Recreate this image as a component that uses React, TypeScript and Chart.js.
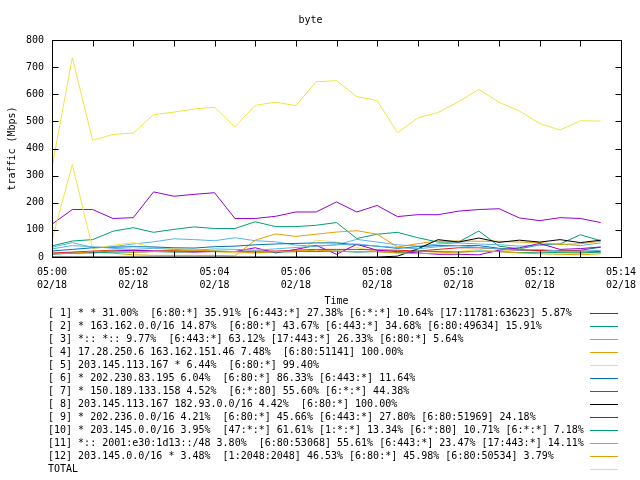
import React, { useEffect, useRef } from "react";
import { Chart, registerables } from "chart.js";

Chart.register(...registerables);

const FONT = "'DejaVu Sans Mono', 'Liberation Mono', monospace";

const chartTitle = "byte";
const yAxisTitle = "traffic (Mbps)";
const xAxisTitle = "Time";
const dateLabel = "02/18";
const startTime = "05:00:00";

const times = [
  "05:00:00", "05:00:30", "05:01:00", "05:01:30", "05:02:00", "05:02:30", "05:03:00",
  "05:03:30", "05:04:00", "05:04:30", "05:05:00", "05:05:30", "05:06:00", "05:06:30",
  "05:07:00", "05:07:30", "05:08:00", "05:08:30", "05:09:00", "05:09:30", "05:10:00",
  "05:10:30", "05:11:00", "05:11:30", "05:12:00", "05:12:30", "05:13:00", "05:13:30",
];

const yMin = 0;
const yMax = 800;
const yStep = 100;
const xMinMinutes = 0;
const xMaxMinutes = 14;

const seriesLabels = [
  "[ 1] * * 31.00%  [6:80:*] 35.91% [6:443:*] 27.38% [6:*:*] 10.64% [17:11781:63623] 5.87%",
  "[ 2] * 163.162.0.0/16 14.87%  [6:80:*] 43.67% [6:443:*] 34.68% [6:80:49634] 15.91%",
  "[ 3] *:: *:: 9.77%  [6:443:*] 63.12% [17:443:*] 26.33% [6:80:*] 5.64%",
  "[ 4] 17.28.250.6 163.162.151.46 7.48%  [6:80:51141] 100.00%",
  "[ 5] 203.145.113.167 * 6.44%  [6:80:*] 99.40%",
  "[ 6] * 202.230.83.195 6.04%  [6:80:*] 86.33% [6:443:*] 11.64%",
  "[ 7] * 150.189.133.158 4.52%  [6:*:80] 55.60% [6:*:*] 44.38%",
  "[ 8] 203.145.113.167 182.93.0.0/16 4.42%  [6:80:*] 100.00%",
  "[ 9] * 202.236.0.0/16 4.21%  [6:80:*] 45.66% [6:443:*] 27.80% [6:80:51969] 24.18%",
  "[10] * 203.145.0.0/16 3.95%  [47:*:*] 61.61% [1:*:*] 13.34% [6:*:80] 10.71% [6:*:*] 7.18%",
  "[11] *:: 2001:e30:1d13::/48 3.80%  [6:80:53068] 55.61% [6:443:*] 23.47% [17:443:*] 14.11%",
  "[12] 203.145.0.0/16 * 3.48%  [1:2048:2048] 46.53% [6:80:*] 45.98% [6:80:50534] 3.79%",
  "TOTAL",
];

const seriesColors = [
  "#9400d3", "#009e73", "#56b4e9", "#e69f00", "#f0e442", "#0072b2", "#e51e10",
  "#000000", "#9400d3", "#009e73", "#56b4e9", "#e69f00", "#f0e442",
];

const s1 = [121, 175, 175, 142, 145, 240, 224, 231, 237, 142, 142, 150, 166, 166, 203, 166, 190, 149, 156, 156, 169, 175, 178, 144, 134, 145, 142, 127];
const s2 = [41, 59, 64, 95, 108, 91, 102, 111, 105, 105, 130, 112, 112, 117, 127, 68, 84, 91, 71, 55, 55, 96, 40, 30, 45, 48, 82, 60];
const s3 = [36, 53, 35, 38, 48, 56, 67, 64, 60, 71, 60, 56, 44, 40, 45, 65, 55, 45, 40, 48, 52, 48, 45, 40, 42, 48, 42, 52];
const s4 = [12, 15, 18, 14, 8, 6, 6, 6, 6, 4, 62, 85, 76, 84, 92, 97, 84, 37, 49, 59, 59, 58, 58, 55, 53, 46, 49, 58];
const s5 = [62, 341, 31, 43, 53, 35, 30, 28, 20, 15, 15, 20, 18, 62, 55, 35, 20, 15, 20, 22, 20, 28, 20, 30, 22, 18, 15, 20];
const s6 = [22, 28, 34, 36, 38, 37, 34, 33, 38, 40, 45, 48, 50, 52, 52, 45, 40, 32, 38, 42, 42, 42, 32, 28, 24, 22, 25, 36];
const s7 = [15, 18, 22, 25, 25, 22, 24, 22, 20, 20, 22, 22, 25, 28, 28, 28, 26, 25, 22, 28, 34, 34, 30, 24, 24, 24, 22, 20];
const s8 = [0, 0, 0, 0, 0, 0, 0, 0, 0, 0, 0, 0, 0, 0, 0, 0, 0, 3, 30, 64, 55, 70, 54, 62, 55, 64, 53, 62];
const s9 = [12, 15, 18, 22, 25, 22, 20, 18, 20, 20, 34, 15, 28, 43, 10, 47, 25, 20, 15, 10, 10, 8, 25, 34, 50, 28, 31, 37];
const s10 = [10, 14, 15, 18, 18, 20, 18, 20, 22, 20, 18, 18, 20, 20, 22, 18, 20, 16, 22, 20, 18, 22, 20, 16, 18, 16, 15, 18];
const s11 = [30, 42, 38, 32, 28, 32, 28, 25, 30, 28, 25, 30, 35, 40, 45, 48, 40, 35, 30, 38, 42, 35, 30, 25, 28, 22, 20, 25];
const s12 = [12, 14, 20, 22, 18, 20, 22, 25, 22, 20, 15, 20, 22, 25, 22, 20, 20, 15, 12, 15, 18, 20, 20, 15, 12, 10, 8, 12];
const total = [330, 735, 430, 452, 457, 525, 534, 546, 552, 480, 559, 571, 558, 646, 650, 591, 577, 458, 513, 533, 572, 618, 570, 538, 492, 468, 502, 501];

const seriesValues = [s1, s2, s3, s4, s5, s6, s7, s8, s9, s10, s11, s12, total];

function toSeconds(t: string): number {
  const [h, m, s] = t.split(":").map(Number);
  return h * 3600 + m * 60 + s;
}

function minutesFromStart(t: string): number {
  return (toSeconds(t) - toSeconds(startTime)) / 60;
}

function minuteLabel(v: number): string {
  const total = Math.round(toSeconds(startTime) / 60 + v);
  const h = Math.floor(total / 60);
  const m = total % 60;
  return String(h).padStart(2, "0") + ":" + String(m).padStart(2, "0");
}

const framePlugin = {
  id: "gnuFrame",
  afterDatasetsDraw(chart: any) {
    const { ctx, chartArea, scales } = chart;
    const { left, right, top, bottom } = chartArea;
    const L = Math.round(left) + 0.5;
    const R = Math.round(right) + 0.5;
    const T = Math.round(top) + 0.5;
    const B = Math.round(bottom) + 0.5;
    ctx.save();
    ctx.strokeStyle = "#000";
    ctx.lineWidth = 1;
    ctx.beginPath();
    ctx.moveTo(L, T);
    ctx.lineTo(R, T);
    ctx.lineTo(R, B);
    ctx.lineTo(L, B);
    ctx.closePath();
    const tl = 6;
    for (let v = yMin; v <= yMax; v += yStep) {
      const py = Math.round(scales.y.getPixelForValue(v)) + 0.5;
      ctx.moveTo(L, py);
      ctx.lineTo(L + tl, py);
      ctx.moveTo(R, py);
      ctx.lineTo(R - tl, py);
    }
    for (let m = xMinMinutes; m <= xMaxMinutes; m += 1) {
      const px = Math.round(scales.x.getPixelForValue(m)) + 0.5;
      ctx.moveTo(px, B);
      ctx.lineTo(px, B - tl);
      ctx.moveTo(px, T);
      ctx.lineTo(px, T + tl);
    }
    ctx.stroke();
    ctx.restore();
  },
};

const keyPlugin = {
  id: "gnuKey",
  afterDraw(chart: any) {
    const { ctx, chartArea } = chart;
    const rowTop = Math.round(chartArea.bottom) + 56;
    const rowStep = 13;
    ctx.save();
    ctx.font = "10px " + FONT;
    ctx.textBaseline = "middle";
    ctx.textAlign = "left";
    chart.data.datasets.forEach((ds: any, i: number) => {
      const y = rowTop + i * rowStep;
      ctx.fillStyle = "#000";
      ctx.fillText(ds.label, 48, y);
      ctx.strokeStyle = ds.borderColor;
      ctx.lineWidth = 1;
      ctx.beginPath();
      ctx.moveTo(590, y + 0.5);
      ctx.lineTo(618, y + 0.5);
      ctx.stroke();
    });
    ctx.restore();
  },
};

export default function App() {
  const canvasRef = useRef<HTMLCanvasElement | null>(null);

  useEffect(() => {
    if (!canvasRef.current) return;
    const n = seriesLabels.length;
    const datasets = seriesLabels.map((label, i) => ({
      label,
      data: times.map((t, k) => ({ x: minutesFromStart(t), y: seriesValues[i][k] })),
      borderColor: seriesColors[i],
      backgroundColor: seriesColors[i],
      borderWidth: 1,
      pointRadius: 0,
      tension: 0,
      fill: false,
      order: n - i,
    }));
    const chart = new Chart(canvasRef.current, {
      type: "line",
      data: { datasets },
      options: {
        responsive: false,
        animation: false,
        devicePixelRatio: 1,
        layout: { padding: { left: 0, right: 19, top: 0, bottom: 169 } },
        plugins: {
          legend: { display: false },
          tooltip: { enabled: false },
          title: {
            display: true,
            text: chartTitle,
            color: "#000",
            font: { family: FONT, size: 10, weight: "normal", lineHeight: 1.2 },
            padding: { top: 14, bottom: 14 },
          },
        },
        scales: {
          x: {
            type: "linear",
            min: xMinMinutes,
            max: xMaxMinutes,
            grid: { display: false, drawTicks: false },
            border: { display: false },
            ticks: {
              stepSize: 1,
              autoSkip: false,
              maxRotation: 0,
              padding: 9,
              color: "#000",
              font: { family: FONT, size: 10, lineHeight: 1.3 },
              callback: (v: any) => (Number(v) % 2 === 0 ? [minuteLabel(Number(v)), dateLabel] : ""),
            },
            title: {
              display: true,
              text: xAxisTitle,
              color: "#000",
              font: { family: FONT, size: 10, lineHeight: 1.2 },
              padding: { top: 0, bottom: 4 },
            },
            afterFit: (scale: any) => {
              scale.height = 54;
              scale.paddingLeft = 0;
              scale.paddingRight = 0;
            },
          },
          y: {
            min: yMin,
            max: yMax,
            grid: { display: false, drawTicks: false },
            border: { display: false },
            ticks: {
              stepSize: yStep,
              padding: 8,
              color: "#000",
              font: { family: FONT, size: 10 },
            },
            title: {
              display: true,
              text: yAxisTitle,
              color: "#000",
              font: { family: FONT, size: 10, lineHeight: 1.2 },
              padding: { top: 6, bottom: 0 },
            },
            afterFit: (scale: any) => {
              scale.width = 52;
            },
          },
        },
      },
      plugins: [framePlugin, keyPlugin],
    } as any);
    return () => chart.destroy();
  }, []);

  return (
    <div style={{ position: "absolute", left: 0, top: 0, width: 640, height: 480, background: "#fff" }}>
      <canvas ref={canvasRef} width={640} height={480} />
    </div>
  );
}
